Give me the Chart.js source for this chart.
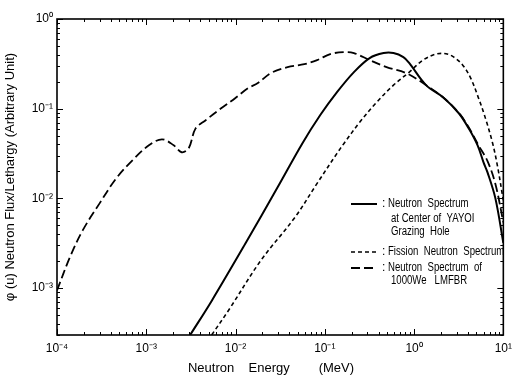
<!DOCTYPE html>
<html>
<head>
<meta charset="utf-8">
<script src="https://cdn.jsdelivr.net/npm/chart.js@4.4.1/dist/chart.umd.min.js"></script>
<style>
  body { margin: 0; background: #fff; }
  #wrap { width: 518px; height: 378px; }
</style>
</head>
<body>
<div id="wrap"><canvas id="fluxChart" width="518" height="378"></canvas></div>
<script>
// Spectrum data (energy in MeV, flux per lethargy in arbitrary units)
const yayoiEnergy = [3.1e-3, 5.4e-3, 1.28e-2, 2.96e-2, 5.6e-2, 8.9e-2, 0.137, 0.212, 0.318, 0.456, 0.588, 0.759, 0.885, 1.36, 2.11, 3.17, 4.09, 5.15, 6.0, 6.65, 8.15, 10];
const yayoiFlux = [3.0e-4, 7.2e-4, 3.1e-3, 1.33e-2, 4.1e-2, 8.5e-2, 0.153, 0.256, 0.367, 0.417, 0.417, 0.376, 0.322, 0.183, 0.134, 0.089, 0.0605, 0.039, 0.0252, 0.0195, 0.0100, 3.2e-3];

const fissionEnergy = [5.4e-3, 8.3e-3, 1.92e-2, 4.6e-2, 8.2e-2, 0.137, 0.164, 0.247, 0.381, 0.588, 0.885, 1.26, 1.76, 2.28, 2.79, 3.51, 4.31, 5.28, 6.31, 7.55, 8.57, 10];
const fissionFlux = [3.0e-4, 5.6e-4, 2.03e-3, 6.1e-3, 1.47e-2, 3.18e-2, 4.1e-2, 7.1e-2, 0.118, 0.183, 0.256, 0.348, 0.406, 0.410, 0.376, 0.306, 0.219, 0.131, 0.078, 0.042, 0.0234, 9.5e-3];

const lmfbrEnergy = [1e-4, 1.39e-4, 1.94e-4, 3.0e-4, 4.6e-4, 7.0e-4, 1.07e-3, 1.5e-3, 2.03e-3, 2.49e-3, 2.99e-3, 3.56e-3, 4.6e-3, 6.9e-3, 9.9e-3, 1.38e-2, 1.78e-2, 2.48e-2, 3.83e-2, 5.9e-2, 8.2e-2, 0.115, 0.164, 0.212, 0.318, 0.492, 0.820, 1.26, 2.11, 3.17, 4.09, 5.28, 6.65, 8.15, 10];
const lmfbrFlux = [9.4e-4, 2.19e-3, 4.4e-3, 8.8e-3, 1.67e-2, 2.66e-2, 3.91e-2, 4.56e-2, 3.91e-2, 3.27e-2, 3.62e-2, 6.0e-2, 7.4e-2, 0.101, 0.131, 0.169, 0.193, 0.249, 0.291, 0.314, 0.348, 0.406, 0.428, 0.417, 0.348, 0.291, 0.249, 0.193, 0.134, 0.090, 0.062, 0.039, 0.026, 0.0145, 5.4e-3];

const xTickValues = [1e-4, 1e-3, 1e-2, 1e-1, 1, 10];
const xTickLabels = ['10⁻⁴', '10⁻³', '10⁻²', '10⁻¹', '10⁰', '10¹'];
const yTickValues = [1e-3, 1e-2, 1e-1, 1];
const yTickLabels = ['10⁻³', '10⁻²', '10⁻¹', '10⁰'];

const xTitle = 'Neutron    Energy        (MeV)';
const yTitle = 'φ (u) Neutron Flux/Lethargy (Arbitrary Unit)';

const legendLines = [
  { series: 0, lines: ['Neutron  Spectrum', 'at Center of  YAYOI', 'Grazing  Hole'] },
  { series: 1, lines: ['Fission  Neutron  Spectrum'] },
  { series: 2, lines: ['Neutron  Spectrum  of', '1000We   LMFBR'] }
];

const FONT = '"Liberation Sans", Arial, sans-serif';

function toPoints(xs, ys) {
  return xs.map((x, i) => ({ x: x, y: ys[i] }));
}

// frame, inward log ticks, legend and x title
const decorPlugin = {
  id: 'decor',
  afterDraw(chart) {
    const c = chart.ctx;
    const a = chart.chartArea;
    const xs = chart.scales.x;
    const ys = chart.scales.y;
    c.save();
    c.strokeStyle = '#000';
    c.lineWidth = 1.6;
    c.strokeRect(a.left, a.top, a.right - a.left, a.bottom - a.top);

    c.lineWidth = 1;
    c.beginPath();
    for (let e = -5; e <= 1; e++) {
      for (let m = 1; m <= 9; m++) {
        const v = m * Math.pow(10, e);
        const len = m === 1 ? 6 : 3;
        if (v >= xs.min * 0.999 && v <= xs.max * 1.001) {
          const px = Math.round(xs.getPixelForValue(v)) + 0.5;
          c.moveTo(px, a.bottom); c.lineTo(px, a.bottom - len);
          c.moveTo(px, a.top); c.lineTo(px, a.top + len);
        }
        if (v >= ys.min * 0.999 && v <= ys.max * 1.001) {
          const py = Math.round(ys.getPixelForValue(v)) + 0.5;
          c.moveTo(a.left, py); c.lineTo(a.left + len, py);
          c.moveTo(a.right, py); c.lineTo(a.right - len, py);
        }
      }
    }
    c.stroke();

    // legend inside the plot
    c.font = '12px ' + FONT;
    c.fillStyle = '#000';
    c.textBaseline = 'middle';
    const rows = [[204, 219, 232], [252], [268, 281]];
    legendLines.forEach((item, k) => {
      const ds = chart.data.datasets[item.series];
      const y0 = rows[k][0];
      c.beginPath();
      c.setLineDash(ds.borderDash || []);
      c.lineWidth = ds.borderWidth;
      c.moveTo(351, y0); c.lineTo(377, y0);
      c.stroke();
      c.setLineDash([]);
      c.fillText(':', 382, y0);
      item.lines.forEach((t, j) => {
        c.save();
        c.translate(j === 0 ? 388 : 391, rows[k][j]);
        c.scale(0.8, 1);
        c.fillText(t, 0, 0);
        c.restore();
      });
    });

    // x axis title
    c.font = '13px ' + FONT;
    c.textAlign = 'center';
    c.fillText(xTitle, 271, 368);
    c.restore();
  }
};

const ctx = document.getElementById('fluxChart').getContext('2d');
const fluxChart = new Chart(ctx, {
  type: 'line',
  data: {
    datasets: [
      {
        label: 'Neutron Spectrum at Center of YAYOI Grazing Hole',
        data: toPoints(yayoiEnergy, yayoiFlux),
        borderColor: '#000',
        borderWidth: 2,
        pointRadius: 0,
        tension: 0.35,
        order: 0
      },
      {
        label: 'Fission Neutron Spectrum',
        data: toPoints(fissionEnergy, fissionFlux),
        borderColor: '#000',
        borderWidth: 1.6,
        borderDash: [4, 3],
        pointRadius: 0,
        tension: 0.35,
        order: 1
      },
      {
        label: 'Neutron Spectrum of 1000We LMFBR',
        data: toPoints(lmfbrEnergy, lmfbrFlux),
        borderColor: '#000',
        borderWidth: 1.8,
        borderDash: [9, 4],
        pointRadius: 0,
        tension: 0.35,
        order: 2
      }
    ]
  },
  options: {
    responsive: false,
    animation: false,
    layout: { padding: { left: 0, right: 10, top: 19, bottom: 0 } },
    plugins: { legend: { display: false }, tooltip: { enabled: false } },
    scales: {
      x: {
        type: 'logarithmic',
        min: 1e-4,
        max: 10,
        bounds: 'data',
        grid: { display: false, drawTicks: false },
        border: { display: false },
        afterBuildTicks: s => { s.ticks = xTickValues.map(v => ({ value: v })); },
        afterFit: s => { s.height = 43; },
        ticks: {
          autoSkip: false,
          maxRotation: 0,
          padding: 6,
          color: '#000',
          font: { family: FONT, size: 12 },
          callback: v => xTickLabels[xTickValues.indexOf(v)]
        }
      },
      y: {
        type: 'logarithmic',
        min: 3e-4,
        max: 1,
        bounds: 'data',
        grid: { display: false, drawTicks: false },
        border: { display: false },
        afterBuildTicks: s => { s.ticks = yTickValues.map(v => ({ value: v })); },
        afterFit: s => { s.width = 57; },
        title: {
          display: true,
          text: yTitle,
          color: '#000',
          padding: { top: 3, bottom: 0 },
          font: { family: FONT, size: 13 }
        },
        ticks: {
          autoSkip: false,
          padding: 4,
          color: '#000',
          font: { family: FONT, size: 12 },
          callback: v => yTickLabels[yTickValues.indexOf(v)]
        }
      }
    }
  },
  plugins: [decorPlugin]
});
</script>
</body>
</html>
